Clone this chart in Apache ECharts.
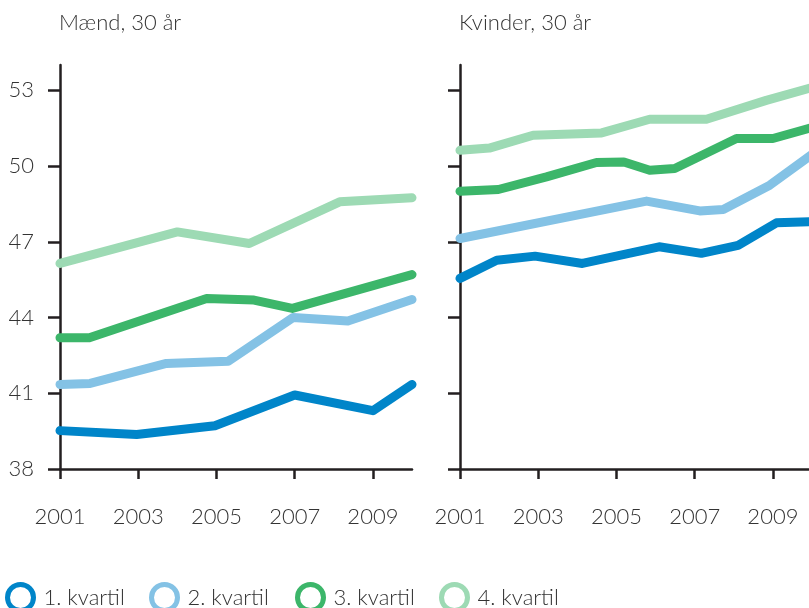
<!DOCTYPE html>
<html>
<head>
<meta charset="utf-8">
<script src="https://cdn.jsdelivr.net/npm/echarts@6/dist/echarts.min.js"></script>
<style>
html,body{margin:0;padding:0;background:#fff;}
#chart{width:809px;height:608px;}
</style>
</head>
<body>
<div id="chart"></div>
<script>
// ---- data ----
const panelTitles = ['Mænd, 30 år', 'Kvinder, 30 år'];
const seriesNames = ['1. kvartil', '2. kvartil', '3. kvartil', '4. kvartil'];
const seriesColors = ['#0085c9', '#84c2e5', '#3cb66a', '#9ddab4'];
const yTicks = [38, 41, 44, 47, 50, 53];
const xTicks = [2001, 2003, 2005, 2007, 2009];

// Mænd, 30 år: [year, value]
const maendQ1 = [[2001,39.52],[2002.96,39.37],[2004.96,39.71],[2007.0,40.93],[2009.0,40.31],[2010,41.35]];
const maendQ2 = [[2001,41.35],[2001.77,41.39],[2003.72,42.18],[2005.3,42.27],[2006.96,44.0],[2008.36,43.86],[2010,44.71]];
const maendQ3 = [[2001,43.2],[2001.75,43.2],[2004.75,44.75],[2005.96,44.69],[2006.94,44.36],[2010,45.7]];
const maendQ4 = [[2001,46.14],[2004.0,47.39],[2005.84,46.93],[2008.15,48.58],[2010,48.74]];

// Kvinder, 30 år: [year, value]
const kvinderQ1 = [[2001,45.55],[2001.94,46.27],[2002.92,46.43],[2004.13,46.14],[2006.09,46.8],[2007.17,46.54],[2008.11,46.86],[2009.09,47.75],[2010,47.8]];
const kvinderQ2 = [[2001,47.13],[2005.77,48.61],[2007.13,48.22],[2007.73,48.28],[2008.92,49.24],[2010,50.46]];
const kvinderQ3 = [[2001,49.0],[2001.98,49.07],[2003.21,49.57],[2004.49,50.14],[2005.19,50.16],[2005.85,49.83],[2006.49,49.9],[2008.07,51.09],[2009.0,51.09],[2010,51.52]];
const kvinderQ4 = [[2001,50.62],[2001.75,50.71],[2002.87,51.22],[2004.62,51.31],[2005.85,51.85],[2007.3,51.85],[2008.83,52.6],[2010,53.11]];

const panels = [[maendQ1, maendQ2, maendQ3, maendQ4], [kvinderQ1, kvinderQ2, kvinderQ3, kvinderQ4]];

// ---- chart ----
const FONT = 'Lato';
const FW = 300;
const TXT = '#333333';
const AX = '#231f20';
const chart = echarts.init(document.getElementById('chart'), null, {renderer: 'canvas'});

const gridLefts = [60, 460];
const grids = gridLefts.map(l => ({left: l, top: 65, width: 352, height: 404, outerBoundsMode: 'none', containLabel: false}));

const xAxes = gridLefts.map((l, i) => ({
  type: 'value', gridIndex: i, min: 2001, max: 2010,
  splitLine: {show: false},
  axisLine: {show: true, onZero: false, lineStyle: {color: AX, width: 2.5}},
  axisTick: {show: true, length: 10, customValues: xTicks, lineStyle: {color: AX, width: 2.5}},
  axisLabel: {show: true, customValues: xTicks, margin: 37, color: TXT, fontFamily: FONT, fontWeight: FW, fontSize: 22,
    formatter: v => String(v)}
}));

const yAxes = gridLefts.map((l, i) => ({
  type: 'value', gridIndex: i, min: 38, max: 54,
  splitLine: {show: false},
  axisLine: {show: true, onZero: false, lineStyle: {color: AX, width: 2.5}},
  axisTick: {show: true, length: 12, customValues: yTicks, lineStyle: {color: AX, width: 2.5}},
  axisLabel: {show: i === 0, customValues: yTicks, margin: 26, color: TXT, fontFamily: FONT, fontWeight: FW, fontSize: 22,
    formatter: v => String(v)}
}));

const series = [];
panels.forEach((panel, pi) => {
  panel.forEach((data, si) => {
    series.push({
      name: seriesNames[si], type: 'line', xAxisIndex: pi, yAxisIndex: pi,
      data: data, symbol: 'none', showSymbol: false, animation: false,
      lineStyle: {color: seriesColors[si], width: 9, cap: 'round', join: 'round'},
      itemStyle: {color: seriesColors[si]},
      clip: false
    });
  });
});

const legendLefts = [5, 149, 295, 439];
const legends = seriesNames.map((n, i) => ({
  left: legendLefts[i], top: 582, orient: 'horizontal', padding: 0,
  icon: 'circle', itemWidth: 36, itemHeight: 26, selectedMode: false,
  textStyle: {color: TXT, fontFamily: FONT, fontWeight: FW, fontSize: 22},
  data: [{name: n, icon: 'circle', itemStyle: {color: '#ffffff', borderColor: seriesColors[i], borderWidth: 5}}]
}));

chart.setOption({
  backgroundColor: '#ffffff',
  animation: false,
  title: panelTitles.map((t, i) => ({
    text: t, left: gridLefts[i] - 1, top: 12, padding: 0,
    textStyle: {color: TXT, fontFamily: FONT, fontSize: 22, fontWeight: FW}
  })),
  grid: grids,
  xAxis: xAxes,
  yAxis: yAxes,
  legend: legends,
  series: series
});
</script>
</body>
</html>
